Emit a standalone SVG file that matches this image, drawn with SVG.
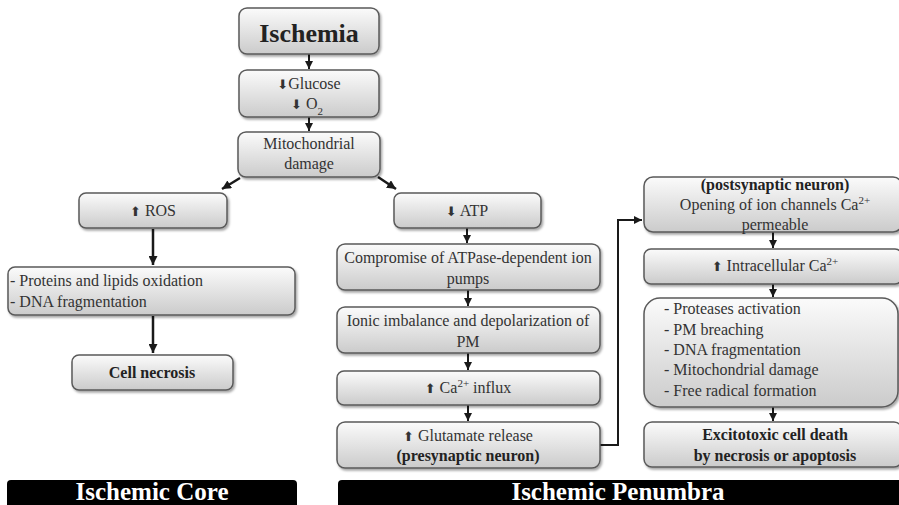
<svg xmlns="http://www.w3.org/2000/svg" width="899" height="505" viewBox="0 0 899 505">
<defs>
<linearGradient id="g" x1="0" y1="0" x2="0" y2="1">
<stop offset="0" stop-color="#fbfbfb"/>
<stop offset="1" stop-color="#cbcbcb"/>
</linearGradient>
<filter id="sh" x="-10%" y="-20%" width="120%" height="150%">
<feDropShadow dx="1.5" dy="2" stdDeviation="1.2" flood-color="#000" flood-opacity="0.35"/>
</filter>
<marker id="ah" viewBox="0 0 10 10" refX="10" refY="5" markerWidth="9" markerHeight="9" markerUnits="userSpaceOnUse" orient="auto">
<path d="M0,0 L10,5 L0,10 z" fill="#1a1a1a"/>
</marker>
<marker id="ahs" viewBox="0 0 10 10" refX="10" refY="5" markerWidth="8" markerHeight="8" markerUnits="userSpaceOnUse" orient="auto">
<path d="M0,0 L10,5 L0,10 z" fill="#1a1a1a"/>
</marker>
</defs>
<style>
.box{fill:url(#g);stroke:#5a5a5a;stroke-width:1.5;filter:url(#sh)}
text{font-family:'Liberation Serif','DejaVu Serif','Times New Roman',serif}
.t{font-size:16px;fill:#333;text-anchor:middle}
.l{text-anchor:start}
.b{font-weight:bold;fill:#222}
.sym{font-family:'DejaVu Sans',sans-serif;font-size:13px}
.bar{fill:#000}
.bt{font-size:25px;font-weight:bold;fill:#fff;text-anchor:middle}
.c{fill:none;stroke:#1a1a1a;stroke-width:2}
.cs{fill:none;stroke:#1a1a1a;stroke-width:2;marker-end:url(#ahs)}
.cl{fill:none;stroke:#1a1a1a;stroke-width:2.5;marker-end:url(#ah)}
</style>
<rect width="899" height="505" fill="#fff"/>

<g id="connectors">
<path class="cs" d="M309,54 V69"/>
<path class="cs" d="M309,117 V131"/>
<path class="cl" d="M240,178 L222,189"/>
<path class="cl" d="M378,177 L396,189"/>
<path class="cl" d="M153,229 V265"/>
<path class="cl" d="M153,316 V353"/>
<path class="cs" d="M467,228 V243"/>
<path class="cs" d="M468,290 V306"/>
<path class="cs" d="M468,353 V370"/>
<path class="cs" d="M468,405 V421"/>
<path class="c" d="M600,445 H618 V220 H632"/>
<path class="cs" d="M626,220 H642"/>
<path class="cs" d="M773,232 V248"/>
<path class="cs" d="M773,284 V297"/>
<path class="cs" d="M773,407 V421"/>
</g>

<g id="ischemia">
<rect class="box" x="239" y="8" width="140" height="46" rx="8"/>
<text class="t b" x="309" y="42" style="font-size:26px">Ischemia</text>
</g>

<g id="glucose">
<rect class="box" x="239" y="70" width="140" height="47" rx="8"/>
<text class="t" x="309" y="89"><tspan class="sym">⬇</tspan>Glucose</text>
<text class="t" x="307" y="109"><tspan class="sym">⬇</tspan> O<tspan baseline-shift="sub" font-size="11">2</tspan></text>
</g>

<g id="mito">
<rect class="box" x="238" y="132" width="142" height="45" rx="8"/>
<text class="t" x="309" y="149">Mitochondrial</text>
<text class="t" x="309" y="169">damage</text>
</g>

<g id="ros">
<rect class="box" x="79" y="193" width="148" height="35" rx="7"/>
<text class="t" x="153" y="216"><tspan class="sym">⬆</tspan> ROS</text>
</g>

<g id="oxidation">
<rect class="box" x="8" y="267" width="287" height="48" rx="7"/>
<text class="t l" x="10" y="286">- Proteins and lipids oxidation</text>
<text class="t l" x="10" y="307">- DNA fragmentation</text>
</g>

<g id="necrosis">
<rect class="box" x="72" y="355" width="161" height="35" rx="7"/>
<text class="t b" x="152" y="378">Cell necrosis</text>
</g>

<g id="atp">
<rect class="box" x="394" y="193" width="147" height="35" rx="7"/>
<text class="t" x="467" y="216"><tspan class="sym">⬇</tspan> ATP</text>
</g>

<g id="pumps">
<rect class="box" x="337" y="244" width="263" height="46" rx="8"/>
<text class="t" x="468" y="263">Compromise of ATPase-dependent ion</text>
<text class="t" x="468" y="284">pumps</text>
</g>

<g id="ionic">
<rect class="box" x="337" y="307" width="263" height="46" rx="8"/>
<text class="t" x="468" y="326">Ionic imbalance and depolarization of</text>
<text class="t" x="468" y="347">PM</text>
</g>

<g id="ca-influx">
<rect class="box" x="337" y="371" width="263" height="34" rx="7"/>
<text class="t" x="468" y="393"><tspan class="sym">⬆</tspan> Ca<tspan baseline-shift="super" font-size="11">2+</tspan> influx</text>
</g>

<g id="glutamate">
<rect class="box" x="337" y="422" width="263" height="46" rx="8"/>
<text class="t" x="468" y="441"><tspan class="sym">⬆</tspan> Glutamate release</text>
<text class="t b" x="468" y="461">(presynaptic neuron)</text>
</g>

<g id="postsynaptic">
<rect class="box" x="644" y="177" width="258" height="55" rx="9"/>
<text class="t b" x="775" y="190">(postsynaptic neuron)</text>
<text class="t" x="775" y="210">Opening of ion channels Ca<tspan baseline-shift="super" font-size="11">2+</tspan></text>
<text class="t" x="775" y="230">permeable</text>
</g>

<g id="intracellular">
<rect class="box" x="644" y="249" width="258" height="35" rx="7"/>
<text class="t" x="775" y="271"><tspan class="sym">⬆</tspan> Intracellular Ca<tspan baseline-shift="super" font-size="11">2+</tspan></text>
</g>

<g id="effects">
<rect class="box" x="644" y="298" width="254" height="109" rx="16"/>
<text class="t l" x="664" y="314">-  Proteases activation</text>
<text class="t l" x="664" y="335">- PM breaching</text>
<text class="t l" x="664" y="355">- DNA fragmentation</text>
<text class="t l" x="664" y="375">- Mitochondrial damage</text>
<text class="t l" x="664" y="396">- Free radical formation</text>
</g>

<g id="excitotoxic">
<rect class="box" x="644" y="422" width="258" height="45" rx="8"/>
<text class="t b" x="775" y="440">Excitotoxic cell death</text>
<text class="t b" x="775" y="461">by necrosis or apoptosis</text>
</g>

<g id="core-label">
<rect class="bar" x="7" y="480" width="290" height="32" rx="4"/>
<text class="bt" x="152" y="500">Ischemic Core</text>
</g>

<g id="penumbra-label">
<rect class="bar" x="338" y="480" width="570" height="32" rx="4"/>
<text class="bt" x="618" y="500">Ischemic Penumbra</text>
</g>
</svg>
